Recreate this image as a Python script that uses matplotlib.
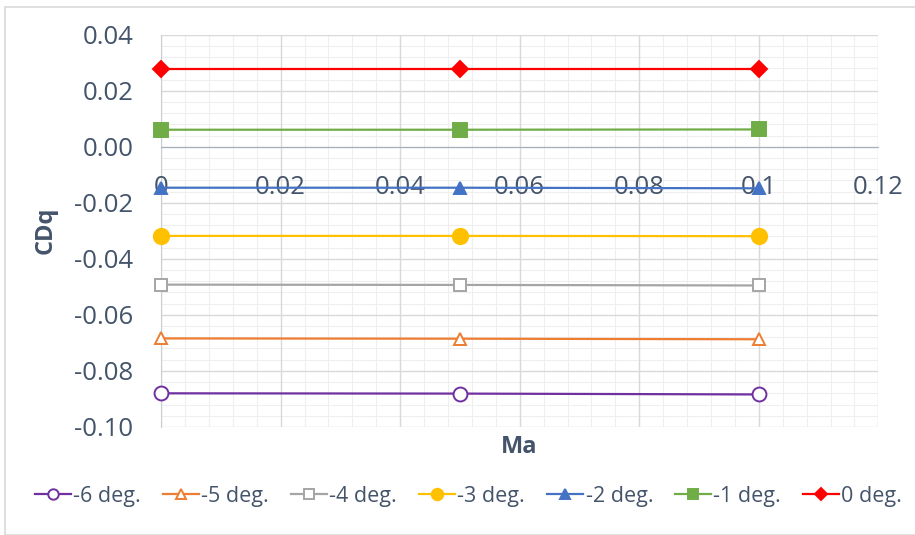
import matplotlib.pyplot as plt
from matplotlib.patches import Rectangle
from matplotlib.ticker import MultipleLocator, FuncFormatter

# Mach numbers and damping derivative for each angle of attack
mach = [0.0, 0.05, 0.1]
cdq_m6 = [-0.0880, -0.0881, -0.0884]
cdq_m5 = [-0.0684, -0.0685, -0.0687]
cdq_m4 = [-0.0492, -0.0493, -0.0495]
cdq_m3 = [-0.0318, -0.0318, -0.0319]
cdq_m2 = [-0.0146, -0.0146, -0.0148]
cdq_m1 = [0.0061, 0.0061, 0.0062]
cdq_0 = [0.0277, 0.0277, 0.0277]
labels = ["-6 deg.", "-5 deg.", "-4 deg.", "-3 deg.", "-2 deg.", "-1 deg.", "0 deg."]

series = [cdq_m6, cdq_m5, cdq_m4, cdq_m3, cdq_m2, cdq_m1, cdq_0]
colors = ["#7030A0", "#ED7D31", "#A5A5A5", "#FFC000", "#4472C4", "#70AD47", "#FF0000"]
markers = ["o", "^", "s", "o", "^", "s", "D"]
filled = [False, False, False, True, True, True, True]
sizes = [10, 9, 9, 11, 9, 10, 8]

text_color = "#44546A"
plt.rcParams['font.family'] = ['Open Sans', 'DejaVu Sans']


def fmt_y(v, pos):
    s = f"{v:.2f}"
    return "0.00" if s == "-0.00" else s


def fmt_x(v, pos):
    return "0" if abs(v) < 1e-9 else f"{v:g}"


fig = plt.figure(figsize=(9.15, 5.35), dpi=100)
fig.patches.append(Rectangle((5 / 915, 0), 1, 1 - 7 / 535, transform=fig.transFigure,
                             fill=False, edgecolor="#D9D9D9", linewidth=1.2))
ax = fig.add_axes([0.176, 0.202, 0.784, 0.733])

ax.set_xlim(0, 0.12)
ax.set_ylim(-0.10, 0.04)
ax.xaxis.set_major_locator(MultipleLocator(0.02))
ax.xaxis.set_minor_locator(MultipleLocator(0.004))
ax.yaxis.set_major_locator(MultipleLocator(0.02))
ax.yaxis.set_minor_locator(MultipleLocator(0.004))

# gridlines drawn as plain lines so the tick labels stay on top of them
for v in ax.xaxis.get_minorticklocs():
    ax.axvline(v, color="#EFEFEF", linewidth=0.8, zorder=0)
for v in ax.yaxis.get_minorticklocs():
    ax.axhline(v, color="#EFEFEF", linewidth=0.8, zorder=0)
for v in ax.xaxis.get_majorticklocs():
    ax.axvline(v, color="#D9D9D9", linewidth=1.0, zorder=0.5)
for v in ax.yaxis.get_majorticklocs():
    ax.axhline(v, color="#D9D9D9", linewidth=1.0, zorder=0.5)

for ys, lab, c, m, f, s in zip(series, labels, colors, markers, filled, sizes):
    ax.plot(mach, ys, color=c, linewidth=1.6, marker=m, markersize=s,
            markerfacecolor=c if f else "white", markeredgecolor=c,
            markeredgewidth=1.4, label=lab, zorder=2, clip_on=False)

ax.xaxis.set_major_formatter(FuncFormatter(fmt_x))
ax.yaxis.set_major_formatter(FuncFormatter(fmt_y))

# horizontal axis crosses at zero, as in the spreadsheet default
ax.spines["bottom"].set_position(("data", 0))
for side in ["top", "right"]:
    ax.spines[side].set_visible(False)
ax.spines["bottom"].set_color("#A6AEBF")
ax.spines["left"].set_color("#C8CDD6")
ax.spines["bottom"].set_zorder(1)
ax.spines["left"].set_zorder(1)
ax.tick_params(axis="both", which="both", length=0, labelsize=18.5, labelcolor=text_color)
ax.tick_params(axis="x", pad=20)
ax.tick_params(axis="y", pad=20)

fig.text(0.567, 0.165, "Ma", ha="center", va="center", fontsize=17, fontweight="bold",
         color=text_color)
fig.text(0.05, 0.57, "CDq", ha="center", va="center", fontsize=17, fontweight="bold",
         color=text_color, rotation=90)

fig.legend(loc="center", bbox_to_anchor=(0.512, 0.072), ncol=7, frameon=False,
           fontsize=15.5, labelcolor=text_color, handlelength=1.7, handletextpad=0.1,
           columnspacing=1.0, markerscale=0.75)

fig.savefig("out.png", dpi=100)
